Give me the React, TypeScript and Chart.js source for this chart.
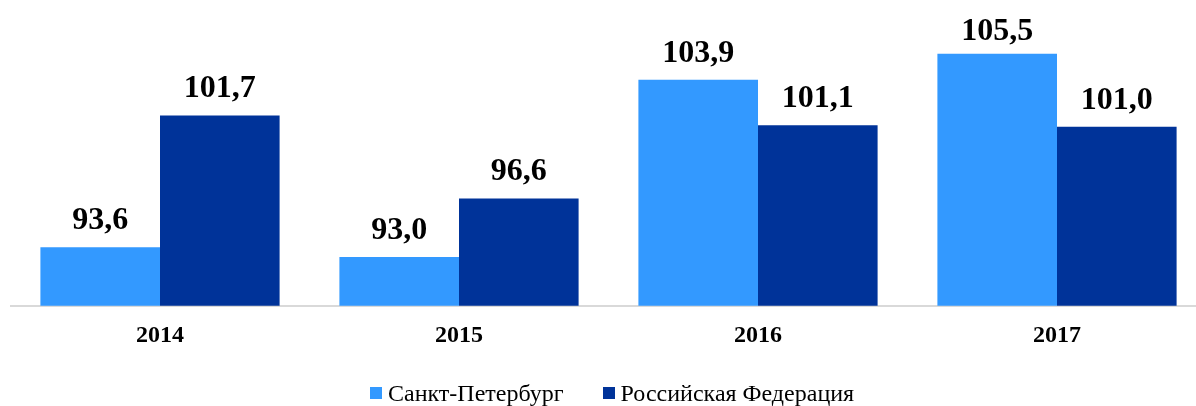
import React, { useEffect, useRef } from "react";
import { Chart, registerables } from "chart.js";

Chart.register(...registerables);

const categories = ["2014", "2015", "2016", "2017"];
const spbValues = [93.6, 93.0, 103.9, 105.5];
const rfValues = [101.7, 96.6, 101.1, 101.0];
const seriesNames = ["Санкт-Петербург", "Российская Федерация"];
const seriesColors = ["#3399FF", "#003399"];
const yMin = 90;
const yMax = 108;

const valueLabels = {
  id: "valueLabels",
  afterDatasetsDraw(chart: any) {
    const ctx = chart.ctx;
    ctx.save();
    ctx.font = "bold 32px 'Liberation Serif'";
    ctx.fillStyle = "#000000";
    ctx.textAlign = "center";
    ctx.textBaseline = "alphabetic";
    chart.data.datasets.forEach((ds: any, i: number) => {
      const meta = chart.getDatasetMeta(i);
      meta.data.forEach((bar: any, j: number) => {
        const v = ds.data[j] as number;
        const y = Math.max(bar.y - 18, 40);
        ctx.fillText(v.toFixed(1).replace(".", ","), bar.x, y);
      });
    });
    ctx.restore();
  },
};

export default function App() {
  const ref = useRef<HTMLCanvasElement | null>(null);

  useEffect(() => {
    if (!ref.current) return;
    const chart = new Chart(ref.current, {
      type: "bar",
      data: {
        labels: categories,
        datasets: [
          {
            label: seriesNames[0],
            data: spbValues,
            backgroundColor: seriesColors[0],
            borderWidth: 0,
            categoryPercentage: 0.8,
            barPercentage: 1.0,
          },
          {
            label: seriesNames[1],
            data: rfValues,
            backgroundColor: seriesColors[1],
            borderWidth: 0,
            categoryPercentage: 0.8,
            barPercentage: 1.0,
          },
        ],
      },
      options: {
        responsive: false,
        animation: false,
        devicePixelRatio: 1,
        layout: { padding: { left: 10.5, right: 9.5, top: 13, bottom: 48.5 } },
        plugins: {
          legend: { display: false },
          tooltip: { enabled: false },
        },
        scales: {
          x: {
            grid: { display: false },
            border: { display: true, color: "#d9d9d9", width: 2 },
            ticks: {
              color: "#000000",
              padding: 7.5,
              font: { family: "'Liberation Serif'", size: 24, weight: "bold" },
            },
          },
          y: { display: false, min: yMin, max: yMax },
        },
      },
      plugins: [valueLabels],
    });
    return () => chart.destroy();
  }, []);

  const legendItem = (name: string, color: string, ml: number) => (
    <div style={{ display: "flex", alignItems: "center", marginLeft: ml }}>
      <div style={{ width: 12, height: 12, background: color, marginRight: 6 }} />
      <span>{name}</span>
    </div>
  );

  return (
    <div
      style={{
        position: "fixed",
        left: 0,
        top: 0,
        width: 1196,
        height: 406,
        overflow: "hidden",
        background: "#ffffff",
      }}
    >
      <canvas ref={ref} width={1216} height={406} style={{ width: 1216, height: 406, display: "block" }} />
      <div
        style={{
          position: "absolute",
          left: 370,
          top: 381,
          display: "flex",
          fontFamily: "'Liberation Serif'",
          fontSize: 24,
          lineHeight: "24px",
          color: "#000000",
          whiteSpace: "nowrap",
        }}
      >
        {legendItem(seriesNames[0], seriesColors[0], 0)}
        {legendItem(seriesNames[1], seriesColors[1], 39)}
      </div>
    </div>
  );
}
